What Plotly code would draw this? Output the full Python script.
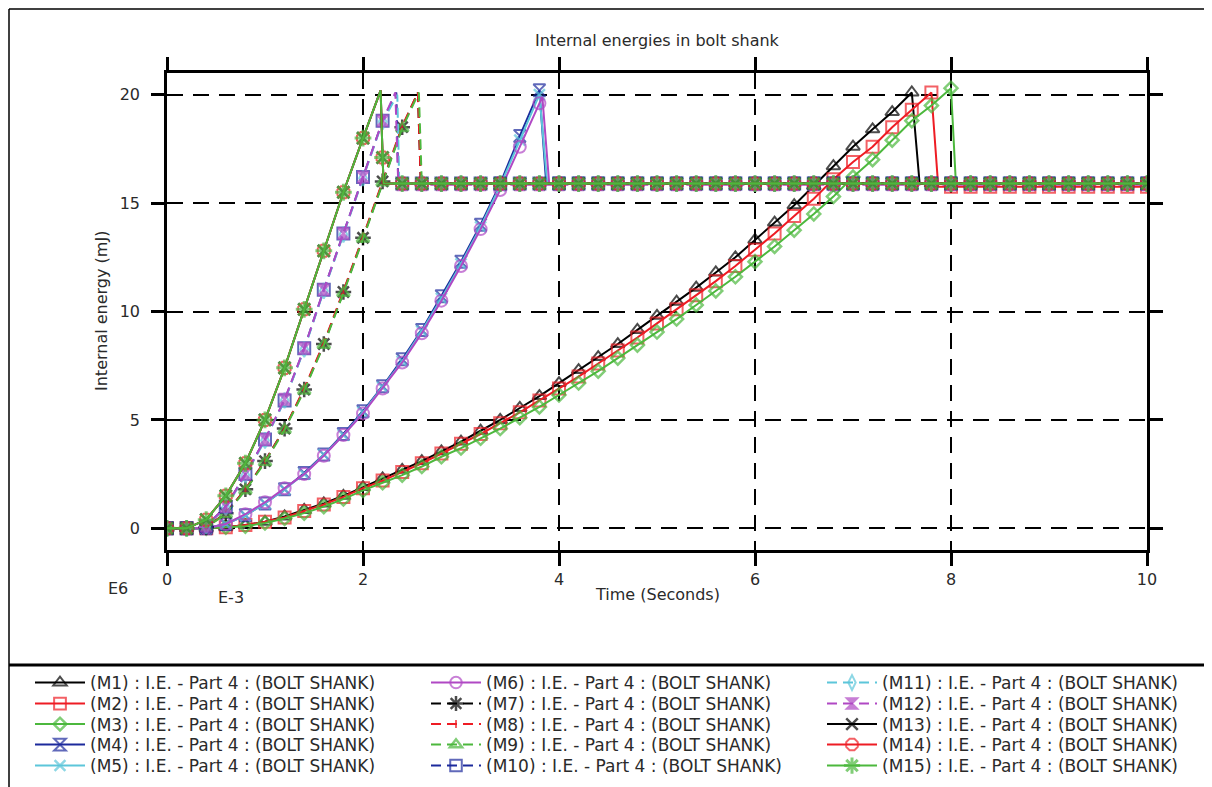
import math
import plotly.graph_objects as go

# ---------------- data ----------------
GRID = 0.2          # sampling interval of the time axis (E-3 s)
X_MAX = 10.0

labels = [f"(M{i}) : I.E. - Part 4 : (BOLT SHANK)" for i in range(1, 16)]

# rising branch, one value every 0.2 starting at t = 0  (mJ, E6)
m1_rise = [0, 0, 0, 0.05, 0.15, 0.3, 0.55, 0.85, 1.15, 1.5, 1.9, 2.3, 2.7, 3.1, 3.55,
           4.0, 4.5, 5.0, 5.55, 6.1, 6.7, 7.3, 7.9, 8.5, 9.15, 9.8, 10.45, 11.1, 11.8,
           12.5, 13.3, 14.1, 14.9, 15.8, 16.7, 17.6, 18.4, 19.2, 20.1]
m2_rise = [0, 0, 0, 0.05, 0.15, 0.3, 0.5, 0.8, 1.1, 1.45, 1.85, 2.2, 2.6, 3.0, 3.45,
           3.9, 4.35, 4.85, 5.35, 5.9, 6.45, 7.0, 7.6, 8.2, 8.8, 9.45, 10.1, 10.75, 11.4,
           12.1, 12.85, 13.6, 14.4, 15.2, 16.1, 16.9, 17.6, 18.5, 19.3, 20.1]
m3_rise = [0, 0, 0, 0.05, 0.1, 0.25, 0.45, 0.7, 1.0, 1.35, 1.75, 2.1, 2.45, 2.85, 3.3,
           3.7, 4.15, 4.6, 5.1, 5.6, 6.15, 6.7, 7.25, 7.85, 8.45, 9.05, 9.65, 10.3, 10.95,
           11.6, 12.3, 13.0, 13.75, 14.5, 15.3, 16.2, 17.0, 17.9, 18.8, 19.5, 20.3]
m4_rise = [0, 0, 0, 0.2, 0.6, 1.15, 1.8, 2.55, 3.4, 4.35, 5.4, 6.55, 7.8, 9.15, 10.7,
           12.3, 14.0, 15.9, 18.1, 20.2]
m5_rise = [0, 0, 0, 0.2, 0.6, 1.15, 1.8, 2.5, 3.4, 4.3, 5.35, 6.5, 7.7, 9.1, 10.6,
           12.2, 13.9, 15.8, 17.9, 20.0]
m6_rise = [0, 0, 0, 0.2, 0.65, 1.2, 1.85, 2.5, 3.35, 4.3, 5.3, 6.45, 7.65, 9.0, 10.5,
           12.1, 13.8, 15.6, 17.6, 19.6]
m7_rise = [0, 0, 0.05, 0.7, 1.8, 3.1, 4.6, 6.4, 8.5, 10.9, 13.4, 16.0, 18.5]
m8_rise = [0, 0, 0.05, 0.7, 1.8, 3.1, 4.6, 6.45, 8.55, 10.95, 13.45, 16.05, 18.55]
m9_rise = [0, 0, 0.05, 0.65, 1.75, 3.05, 4.55, 6.35, 8.45, 10.85, 13.35, 15.95, 18.45]
m10_rise = [0, 0, 0.1, 1.0, 2.5, 4.1, 5.9, 8.3, 11.0, 13.6, 16.2, 18.8]
m11_rise = [0, 0, 0.1, 0.95, 2.45, 4.05, 5.9, 8.25, 10.95, 13.55, 16.15, 18.75]
m12_rise = [0, 0, 0.1, 1.0, 2.5, 4.1, 5.95, 8.3, 11.0, 13.6, 16.2, 18.8]
m13_rise = [0, 0, 0.4, 1.5, 3.0, 5.0, 7.4, 10.1, 12.8, 15.5, 18.0]
m14_rise = [0, 0, 0.4, 1.5, 3.0, 5.0, 7.4, 10.1, 12.8, 15.5, 18.0]
m15_rise = [0, 0, 0.4, 1.5, 3.0, 5.0, 7.4, 10.1, 12.8, 15.5, 18.0]

rises = [m1_rise, m2_rise, m3_rise, m4_rise, m5_rise, m6_rise, m7_rise, m8_rise,
         m9_rise, m10_rise, m11_rise, m12_rise, m13_rise, m14_rise, m15_rise]

# peak between samples (None = last sample is the peak)
peak_t = [None, None, None, None, None, 3.83, 2.56, 2.56, 2.57, 2.34, 2.35, 2.33, 2.18, 2.18, 2.18]
peak_v = [None, None, None, None, None, 19.9, 20.1, 20.1, 20.1, 20.1, 20.0, 20.1, 20.2, 20.2, 20.2]
# intermediate sample during the drop
mid_t = [None] * 12 + [2.2, 2.2, 2.2]
mid_v = [None] * 12 + [17.1, 17.1, 17.1]
# time of the drop and the residual energy level afterwards
drop_t = [7.68, 7.87, 8.05, 3.87, 3.88, 3.9, 2.59, 2.59, 2.6, 2.36, 2.37, 2.36, 2.21, 2.21, 2.21]
plateau_v = [15.9, 15.75, 15.9, 15.9, 15.9, 15.9, 15.9, 15.9, 15.9, 15.9, 15.9, 15.85, 15.9, 15.9, 15.9]

x_ticks = [0, 2, 4, 6, 8, 10]
y_ticks = [0, 5, 10, 15, 20]

# ---------------- styles ----------------
BLACK, RED, GREEN = "#000000", "#ee1c24", "#4cb83d"
NAVY, CYAN, PURPLE = "#1c2a9c", "#5cc6da", "#b048c4"
colors = [BLACK, RED, GREEN, NAVY, CYAN, PURPLE, BLACK, RED, GREEN, NAVY, CYAN, PURPLE,
          BLACK, RED, GREEN]
symbols = ["triangle-up-open", "square-open", "diamond-open", "hourglass-open",
           "x-thin-open", "circle-open", "asterisk-open", "line-ns-open",
           "triangle-up-open", "square-open", "diamond-tall-open", "hourglass",
           "x-thin-open", "octagon-open", "asterisk-open"]
msizes = [12, 12, 10, 12, 11, 12, 13, 6, 11, 12, 11, 11, 12, 13, 14]
mlw = [2, 2, 2.5, 2, 2.5, 2, 2.5, 2, 2.5, 2, 2, 2, 2.5, 2, 3]
dashes = ["solid"] * 6 + ["10px,6px"] * 6 + ["solid"] * 3

FONT = "DejaVu Sans"
TXT = "#2a2a2a"

# The page body has an 8px margin: target page pixels are shifted by OFF.
OFF = 8
W, H = 1212 - OFF, 787 - OFF
# plot-area box in page pixels
L, R, T, B = 167, 1147, 73, 550


def px(x):
    return (x - L) / (R - L)


def py(y):
    return (B - y) / (B - T)


fig = go.Figure()

for i in range(15):
    rise = rises[i]
    xs = [round(k * GRID, 2) for k in range(len(rise))]
    ys = list(rise)
    sz = [msizes[i]] * len(rise)
    if peak_t[i] is not None:
        xs.append(peak_t[i]); ys.append(peak_v[i]); sz.append(0)
    if mid_t[i] is not None:
        xs.append(mid_t[i]); ys.append(mid_v[i]); sz.append(msizes[i])
    xs.append(drop_t[i]); ys.append(plateau_v[i]); sz.append(0)
    k0 = math.floor(drop_t[i] / GRID + 1e-6) + 1
    for k in range(k0, int(round(X_MAX / GRID)) + 1):
        xs.append(round(k * GRID, 2)); ys.append(plateau_v[i]); sz.append(msizes[i])
    lid = "legend" if i == 0 else f"legend{i + 1}"
    fig.add_trace(go.Scatter(
        x=xs, y=ys, mode="lines+markers", name=labels[i], legend=lid,
        line=dict(color=colors[i], width=2, dash=dashes[i]),
        marker=dict(symbol=symbols[i], size=sz, color=colors[i],
                    line=dict(color=colors[i], width=mlw[i])),
        hoverinfo="skip",
    ))

# one legend per entry so that the 3 x 5 grid matches the reference spacing
col_left = [30, 426, 822]
row_mid = [683, 704, 724.5, 745, 766]
legend_layout = {}
for i in range(15):
    lid = "legend" if i == 0 else f"legend{i + 1}"
    c, r = divmod(i, 5)
    legend_layout[lid] = dict(
        x=px(col_left[c]), y=py(row_mid[r]), xanchor="left", yanchor="middle",
        orientation="v", itemwidth=50, itemsizing="trace",
        bgcolor="rgba(0,0,0,0)", borderwidth=0,
        font=dict(family=FONT, size=17, color=TXT),
        itemclick=False, itemdoubleclick=False,
    )

axis_common = dict(
    showline=True, linecolor="black", linewidth=2.5, mirror="ticks",
    ticks="outside", ticklen=13, tickwidth=2.5, tickcolor="black",
    showgrid=True, gridcolor="black", gridwidth=2, griddash="16px,10px",
    zeroline=False, tickfont=dict(family=FONT, size=16, color=TXT),
    fixedrange=True,
)

fig.update_layout(
    width=W, height=H,
    margin=dict(l=L - OFF, r=W - (R - OFF), t=T - OFF, b=H - (B - OFF), autoexpand=False),
    paper_bgcolor="white", plot_bgcolor="white",
    showlegend=True,
    xaxis=dict(range=[0, 10], tickvals=x_ticks, **axis_common),
    yaxis=dict(range=[-1, 21], tickvals=y_ticks, ticklabelstandoff=8, **axis_common),
    font=dict(family=FONT, size=16, color=TXT),
    **legend_layout,
)

annos = [
    dict(text="Internal energies in bolt shank", x=px(657), y=py(40)),
    dict(text="Internal energy (mJ)", x=px(101), y=py(311), textangle=-90),
    dict(text="Time (Seconds)", x=px(657), y=py(594)),
    dict(text="E6", x=px(118), y=py(588)),
    dict(text="E-3", x=px(231), y=py(597)),
]
for a in annos:
    fig.add_annotation(xref="paper", yref="paper", showarrow=False,
                       xanchor="center", yanchor="middle",
                       font=dict(family=FONT, size=16, color=TXT), **a)

# outer frame (page edge is at OFF) and legend separator
frame = dict(type="line", xref="paper", yref="paper", line=dict(color="black", width=1.5))
fig.add_shape(x0=px(OFF + 1), x1=px(OFF + 1), y0=py(OFF + 1), y1=py(800), **frame)
fig.add_shape(x0=px(OFF + 1), x1=px(1215), y0=py(OFF + 1), y1=py(OFF + 1), **frame)
fig.add_shape(type="line", xref="paper", yref="paper", x0=px(OFF + 1), x1=px(1215),
              y0=py(665), y1=py(665), line=dict(color="black", width=3))

fig.write_html("out.html")
